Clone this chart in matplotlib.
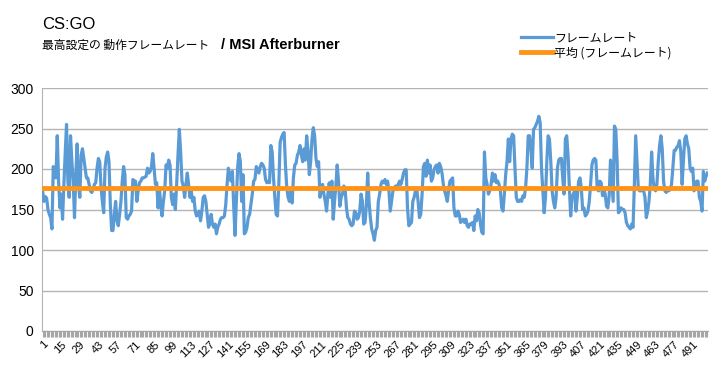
import numpy as np
import matplotlib
matplotlib.use("Agg")
import matplotlib.pyplot as plt

plt.rcParams['font.family'] = ['Liberation Sans', 'Noto Sans CJK JP', 'DejaVu Sans']

# frame rate, one value per sample
fps = [
    172, 160, 166, 164, 150, 144, 140, 126, 203, 193, 189, 241, 185, 152, 169, 138, 181, 220, 255, 185,
    165, 241, 210, 185, 140, 193, 231, 181, 165, 217, 225, 213, 200, 189, 189, 181, 173, 171, 175, 181,
    183, 201, 213, 209, 177, 160, 146, 201, 215, 221, 209, 156, 124, 124, 144, 160, 136, 130, 144, 160,
    185, 203, 193, 140, 138, 142, 144, 148, 187, 185, 185, 160, 173, 183, 185, 189, 189, 190, 191, 201,
    195, 197, 203, 219,
    201, 181, 183, 152, 177, 156, 142, 160, 173, 205, 201, 211, 205, 165, 156, 169, 150, 181, 217, 249,
    221, 185, 179, 165, 181, 195, 181, 165, 173, 160, 165, 148, 142, 144, 148, 136, 148, 165, 167, 160,
    144, 128, 132, 144, 132, 128, 132, 120, 128, 132, 138, 140, 140, 142, 156, 181, 201, 191, 185, 197,
    154, 118, 160, 203, 219, 209, 160, 193, 120, 122, 128, 140, 144, 156, 169, 185, 187, 203, 199, 195,
    203, 207,
    205, 201, 187, 183, 185, 183, 229, 221, 189, 165, 144, 142, 181, 233, 239, 243, 245, 205, 177, 165,
    160, 173, 158, 189, 205, 207, 217, 221, 229, 217, 209, 225, 211, 241, 223, 193, 209, 237, 251, 241,
    213, 203, 209, 165, 173, 181, 169, 160, 148, 169, 183, 165, 185, 138, 160, 179, 205, 185, 154, 165,
    169, 179, 175, 152, 140, 138, 132, 130, 132, 148, 146, 138, 140, 148, 169, 160, 132, 134, 156, 195,
    160, 140, 126,
    120, 112, 124, 128, 160, 169, 181, 185, 183, 187, 181, 185, 173, 148, 160, 173, 175, 179, 175, 181,
    185, 181, 187, 195, 199, 199, 152, 130, 132, 134, 160, 165, 173, 175, 160, 140, 144, 169, 203, 207,
    191, 211, 195, 205, 185, 189, 199, 203, 205, 195, 207, 203, 195, 181, 173, 167, 160, 175, 185, 187,
    189, 152, 142, 142, 148, 144, 134, 136, 138, 134, 138, 130, 128, 132, 132, 134, 124, 142, 136, 150,
    146, 132, 122,
    120, 221, 189, 181, 169, 173, 181, 195, 185, 193, 183, 185, 181, 173, 152, 148, 169, 193, 209, 237,
    209, 237, 243, 241, 201, 165, 160, 160, 162, 160, 167, 165, 177, 201, 241, 241, 225, 201, 249, 251,
    255, 259, 265, 257, 201, 173, 146, 165, 209, 241, 237, 209, 173, 160, 152, 165, 201, 211, 213, 213,
    189, 169, 237, 241, 217, 177, 142, 165, 169, 173, 148, 165, 185, 189, 177, 150, 152, 142, 144, 148,
    160, 181, 205,
    211, 213, 211, 175, 173, 185, 183, 167, 175, 169, 154, 152, 167, 211, 185, 160, 253, 249, 209, 146,
    148, 152, 150, 150, 146, 134, 130, 128, 126, 132, 128, 181, 241, 207, 175, 173, 173, 175, 173, 165,
    140, 148, 160, 181, 221, 189, 175, 173, 181, 209, 229, 241, 225, 185, 173, 171, 175, 173, 175, 181,
    201, 223, 223, 227, 229, 235, 221, 181, 211, 237, 241, 231, 225, 201, 197, 201, 173, 177, 185, 185,
    165, 160, 148, 197, 185, 191, 195,
]
avg_fps = 176
label_step = 14

title = "CS:GO"
subtitle = "最高設定の 動作フレームレート"
subtitle_bold = "/ MSI Afterburner"
legend_names = ["フレームレート", "平均 (フレームレート)"]

n = len(fps)
idx = np.arange(1, n + 1)

fig = plt.figure(figsize=(7.21, 3.74), dpi=100)
ax = fig.add_axes([42 / 721, 43 / 374, 666 / 721, 243 / 374])

l1, = ax.plot(idx, fps, color='#5B9BD5', lw=2.3, solid_joinstyle='round', zorder=3)
l2, = ax.plot([0.5, n + 0.5], [avg_fps, avg_fps], color='#FF9418', lw=3.5, zorder=4)

ax.set_xlim(0.5, n + 0.5)
ax.set_ylim(0, 300)
ax.set_yticks(range(0, 301, 50))
ax.grid(axis='y', color='#B4B4B4', lw=1)
ax.set_axisbelow(True)

ax.set_xticks(idx[::label_step])
ax.set_xticklabels([str(i) for i in idx[::label_step]], rotation=45, ha='right',
                   rotation_mode='anchor', fontsize=8)
ax.set_xticks(idx, minor=True)
ax.tick_params(axis='x', which='both', length=4, color='#A6A6A6', width=0.8, pad=2)
ax.tick_params(axis='y', length=0, labelsize=10, pad=6)

for s in ['top', 'right']:
    ax.spines[s].set_visible(False)
ax.spines['left'].set_color('#B4B4B4')
ax.spines['bottom'].set_color('#A6A6A6')

fig.text(42 / 721, 1 - 29 / 374, title, fontsize=12, va='baseline')
fig.text(42 / 721, 1 - 49 / 374, subtitle, fontsize=8.5, va='baseline',
         family=['Noto Sans CJK JP', 'DejaVu Sans'])
fig.text(221 / 721, 1 - 49 / 374, subtitle_bold, fontsize=10.5, va='baseline', weight='bold')

fig.legend([l1, l2], legend_names, loc='upper left', bbox_to_anchor=(521 / 721, 1 - 31 / 374),
           frameon=False, handlelength=2.7, handletextpad=0.1,
           labelspacing=0.2, borderaxespad=0, borderpad=0,
           prop={'family': ['Noto Sans CJK JP', 'DejaVu Sans'], 'size': 8.6})

fig.savefig("out.png", dpi=100)
